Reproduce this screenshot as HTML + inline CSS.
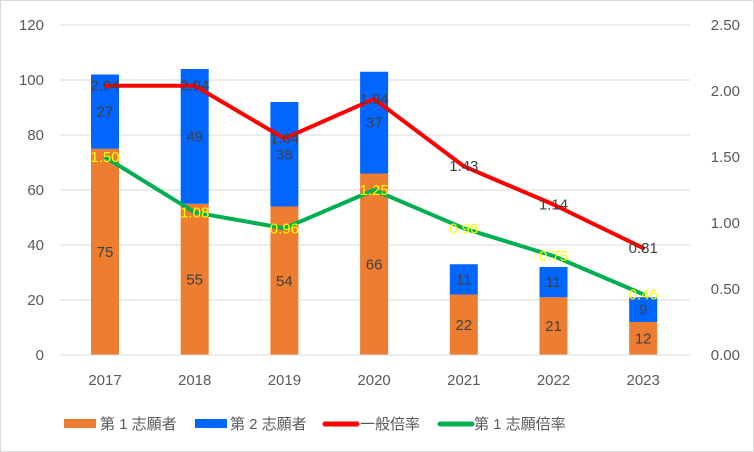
<!DOCTYPE html>
<html><head><meta charset="utf-8"><style>
html,body{margin:0;padding:0;background:#fff;}
svg{display:block;font-family:"Liberation Sans","Noto Sans CJK JP",sans-serif;}
</style></head><body>
<svg id="chart" width="754" height="452" viewBox="0 0 754 452">
<rect x="0.5" y="0.5" width="753" height="451" fill="#fff" stroke="#d9d9d9"/>
<g id="grid"></g>
<g id="bars"></g>
<g id="lines"></g>
<g id="labels"></g>
<g id="axes"></g>
<g font-size="15" fill="#595959">
 <g><rect x="64" y="419" width="32" height="9" fill="#ED7D31"/><text x="100" y="429">第 1 志願者</text></g>
 <g><rect x="195" y="419" width="32" height="9" fill="#0066FF"/><text x="230" y="429">第 2 志願者</text></g>
 <g><line x1="325" y1="424" x2="357" y2="424" stroke="#FF0000" stroke-width="5" stroke-linecap="round"/><text x="360" y="429">一般倍率</text></g>
 <g><line x1="440" y1="424" x2="472" y2="424" stroke="#00B050" stroke-width="5" stroke-linecap="round"/><text x="474" y="429">第 1 志願倍率</text></g>
</g>
</svg>
<script>
const categories=["2017","2018","2019","2020","2021","2022","2023"];
const firstChoice=[75,55,54,66,22,21,12];
const secondChoice=[27,49,38,37,11,11,9];
const generalRatio=[2.04,2.04,1.64,1.94,1.43,1.14,0.81];
const firstRatio=[1.50,1.08,0.96,1.25,0.96,0.75,0.46];
const leftTicks=[0,20,40,60,80,100,120];
const rightTicks=["0.00","0.50","1.00","1.50","2.00","2.50"];
const NS="http://www.w3.org/2000/svg";
const y0=355,yTop=25;
const yL=v=>y0-(v/120)*(y0-yTop);
const yR=v=>y0-(v/2.5)*(y0-yTop);
const xC=i=>105+i*89.7;
function mk(tag,attrs,parent,text){const e=document.createElementNS(NS,tag);for(const k in attrs)e.setAttribute(k,attrs[k]);if(text!==undefined)e.textContent=text;document.getElementById(parent).appendChild(e);return e;}
leftTicks.forEach(t=>{
 if(t>0){const g=mk("line",{x1:60,x2:690,y1:yL(t),y2:yL(t),stroke:"#d9d9d9","stroke-width":1},"grid");
 
 }
 const l=mk("text",{x:44,y:yL(t)+5,"text-anchor":"end","font-size":15,fill:"#595959"},"axes",String(t));
 
 
});
const ax=mk("line",{x1:60,x2:690,y1:y0,y2:y0,stroke:"#d9d9d9"},"axes");


rightTicks.forEach(t=>{
 const l=mk("text",{x:740,y:yR(parseFloat(t))+5,"text-anchor":"end","font-size":15,fill:"#595959"},"axes",t);
 
 
});
categories.forEach((c,i)=>{
 const l=mk("text",{x:xC(i),y:385,"text-anchor":"middle","font-size":15,fill:"#595959"},"axes",c);
 
 
 const a=firstChoice[i],b=secondChoice[i];
 const r1=mk("rect",{x:xC(i)-14,y:yL(a),width:28,height:y0-yL(a),fill:"#ED7D31"},"bars");
 
 
 const r2=mk("rect",{x:xC(i)-14,y:yL(a+b),width:28,height:yL(a)-yL(a+b),fill:"#0066FF"},"bars");
 
 
 const t1=mk("text",{x:xC(i),y:(yL(a)+y0)/2+5,"text-anchor":"middle","font-size":15,fill:"#404040"},"labels",String(a));
 
 
 const t2=mk("text",{x:xC(i),y:(yL(a)+yL(a+b))/2+5,"text-anchor":"middle","font-size":15,fill:"#404040"},"labels",String(b));
 
 
});
function line(data,color,name,lc){
 const p=mk("polyline",{points:data.map((v,i)=>xC(i)+","+yR(v)).join(" "),fill:"none",stroke:color,"stroke-width":4,"stroke-linejoin":"round","stroke-linecap":"round"},"lines");
 
 
 data.forEach((v,i)=>{
  const t=mk("text",{x:xC(i),y:yR(v)+5,"text-anchor":"middle","font-size":15,fill:lc},"labels",v.toFixed(2));
  
  
 });
}
line(generalRatio,"#FF0000","line-general-ratio","#404040");
line(firstRatio,"#00B050","line-first-choice-ratio","#FFFF00");
</script>
</body></html>
